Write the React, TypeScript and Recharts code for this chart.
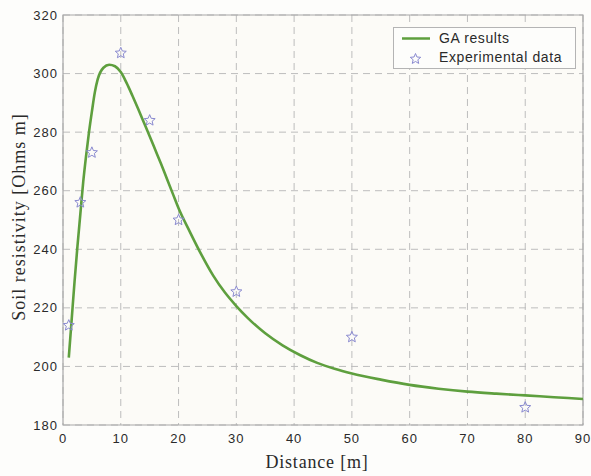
import { ComposedChart, Line, Scatter, XAxis, YAxis, CartesianGrid, Legend, ReferenceArea } from 'recharts';

// GA fitted curve
const gaDistance = [1, 1.5, 2, 2.5, 3, 3.5, 4, 4.5, 5, 5.5, 6, 7, 8, 9, 10, 11, 12, 13, 14, 15, 16, 17, 18, 19, 20, 22, 24, 26, 28, 30, 32, 35, 38, 41, 44, 47, 50, 55, 60, 65, 70, 75, 80, 85, 90];
const gaResistivity = [203, 216, 229, 241, 252, 263, 272, 280, 287, 293.5, 298, 302, 303, 302.5, 300.5, 296.8, 292.5, 288, 283.3, 278.6, 273.8, 269, 264, 259, 254, 245.8, 238, 231, 225.3, 220.6, 216.5, 211.3, 207.2, 203.9, 201.2, 199.2, 197.6, 195.5, 193.7, 192.4, 191.4, 190.7, 190.1, 189.5, 188.9];

// measured points
const expDistance = [1, 3, 5, 10, 15, 20, 30, 50, 80];
const expResistivity = [214, 256, 273, 307, 284, 250, 225.5, 210, 186];

const xTicks = [0, 10, 20, 30, 40, 50, 60, 70, 80, 90];
const yTicks = [180, 200, 220, 240, 260, 280, 300, 320];

const gaData = gaDistance.map((x, i) => ({ x, y: gaResistivity[i] }));
const expData = expDistance.map((x, i) => ({ x, y: expResistivity[i] }));

const GREEN = '#5e9f3e';
const STAR = '#8a8ad0';
const tickStyle = { fontFamily: 'Liberation Sans, Arial, sans-serif', fontSize: 13, fill: '#2a2a2a', letterSpacing: 1 };
const serif = 'Liberation Serif, Times New Roman, serif';

function starPath(cx: number, cy: number, r: number) {
  const pts: string[] = [];
  for (let i = 0; i < 10; i++) {
    const rad = i % 2 === 0 ? r : r * 0.45;
    const a = -Math.PI / 2 + (i * Math.PI) / 5;
    pts.push(`${(cx + rad * Math.cos(a)).toFixed(2)},${(cy + rad * Math.sin(a)).toFixed(2)}`);
  }
  return 'M' + pts.join('L') + 'Z';
}

const StarShape = (props: any) => {
  const { cx, cy } = props;
  return <path d={starPath(cx, cy, 5.8)} fill="none" stroke={STAR} strokeWidth={1} />;
};

const LegendBox = () => (
  <div style={{ width: 181, height: 40, border: '1px solid #b4b4b4', background: '#fdfdfb', fontFamily: 'Liberation Sans, Arial, sans-serif', fontSize: 14, color: '#2a2a2a', letterSpacing: 0.6, position: 'relative' }}>
    <svg width={40} height={40} style={{ position: 'absolute', left: 0, top: 0 }}>
      <line x1={8} x2={36} y1={10.5} y2={10.5} stroke={GREEN} strokeWidth={2.5} />
      <path d={starPath(21.5, 31, 5.5)} fill="none" stroke={STAR} strokeWidth={1} />
    </svg>
    <div style={{ position: 'absolute', left: 45, top: 2, lineHeight: '16px' }}>GA results</div>
    <div style={{ position: 'absolute', left: 45, top: 21, lineHeight: '16px' }}>Experimental data</div>
  </div>
);

export default function App() {
  return (
    <div style={{ position: 'absolute', left: 0, top: 0, width: 591, height: 476, background: '#fdfdfb' }}>
      <ComposedChart width={591} height={476} margin={{ top: 15, right: 8, left: 0, bottom: 0 }}>
        <CartesianGrid fill="#fcfbf7" stroke="#bdbdbd" strokeDasharray="7 5" />
        <XAxis
          type="number"
          dataKey="x"
          domain={[0, 90]}
          ticks={xTicks}
          height={51}
          tickSize={0}
          tickMargin={9}
          axisLine={false}
          tick={tickStyle}
          label={{
            content: (p: any) => {
              const vb = p.viewBox;
              return (
                <text x={vb.x + vb.width / 2 - 6} y={vb.y + 43} textAnchor="middle" fontFamily={serif} fontSize={18} letterSpacing={0.8} fill="#2a2a2a">
                  Distance [m]
                </text>
              );
            },
          }}
        />
        <YAxis
          type="number"
          dataKey="y"
          domain={[180, 320]}
          ticks={yTicks}
          width={63}
          tickSize={0}
          tickMargin={5}
          axisLine={false}
          tick={tickStyle}
          label={{
            content: (p: any) => {
              const vb = p.viewBox;
              const cx = vb.x + 25;
              const cy = vb.y + vb.height / 2 - 3;
              return (
                <text x={cx} y={cy} transform={`rotate(-90 ${cx} ${cy})`} textAnchor="middle" fontFamily={serif} fontSize={18} letterSpacing={1} fill="#2a2a2a">
                  Soil resistivity [Ohms m]
                </text>
              );
            },
          }}
        />
        <ReferenceArea x1={0} x2={90} y1={180} y2={320} fill="none" stroke="#a8a8a8" strokeWidth={1.2} />
        <Line data={gaData} dataKey="y" type="monotone" stroke={GREEN} strokeWidth={2.6} dot={false} isAnimationActive={false} />
        <Scatter data={expData} dataKey="y" shape={StarShape} isAnimationActive={false} />
        <Legend
          layout="vertical"
          align="center"
          verticalAlign="middle"
          content={() => <LegendBox />}
          wrapperStyle={{ position: 'absolute', left: 393, top: 27, width: 183, height: 42 }}
        />
      </ComposedChart>
    </div>
  );
}
